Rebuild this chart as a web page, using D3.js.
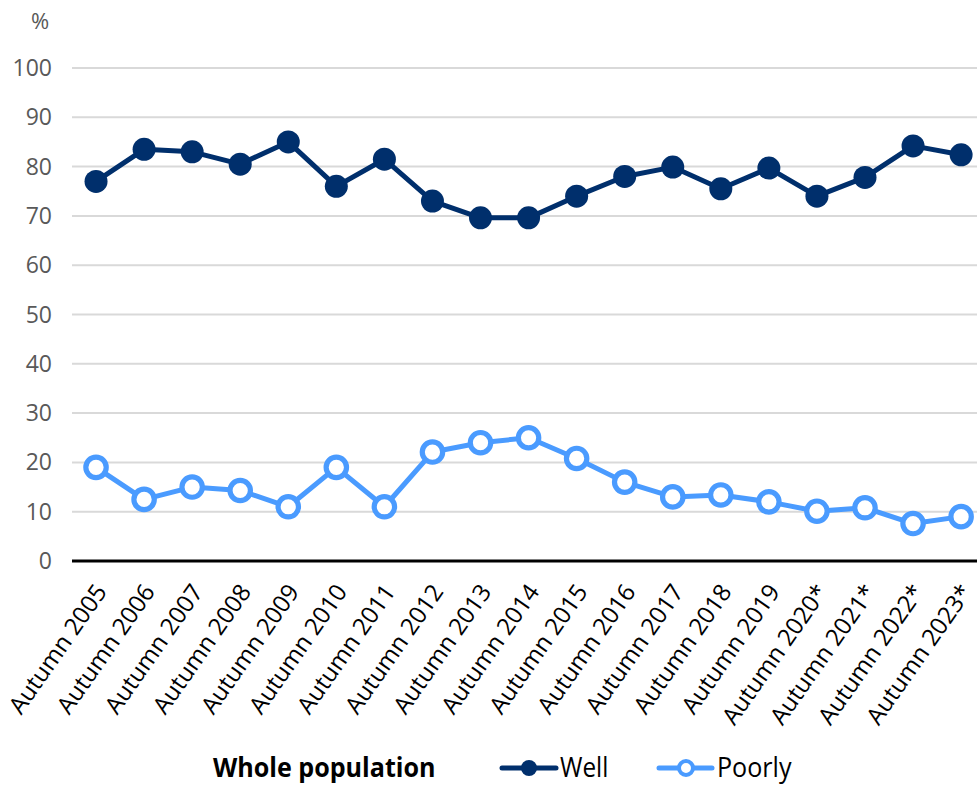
<!DOCTYPE html>
<html><head><meta charset="utf-8">
<script src="https://cdn.jsdelivr.net/npm/d3@7"></script>
<style>body{margin:0;background:#fff}svg{display:block}text{font-family:"Open Sans",sans-serif}</style>
</head><body>
<svg id="c" width="977" height="785"></svg>
<script>
const categories = ["Autumn 2005","Autumn 2006","Autumn 2007","Autumn 2008","Autumn 2009","Autumn 2010","Autumn 2011","Autumn 2012","Autumn 2013","Autumn 2014","Autumn 2015","Autumn 2016","Autumn 2017","Autumn 2018","Autumn 2019","Autumn 2020*","Autumn 2021*","Autumn 2022*","Autumn 2023*"];
const well = [77,83.5,83,80.5,85,76,81.5,73,69.6,69.6,74,78,79.9,75.5,79.7,74,77.8,84.2,82.4];
const poorly = [19,12.5,15,14.3,11,19,11,22.1,24,25,20.8,16,13,13.4,12,10.1,10.8,7.6,9];
const yTicks = [0,10,20,30,40,50,60,70,80,90,100];
const seriesNames = ["Well","Poorly"];
const legendTitle = "Whole population";

const svg = d3.select("#c");
const x = d3.scaleBand().domain(categories).range([72, 72 + 48.06*19]);
const y = d3.scaleLinear().domain([0,100]).range([561, 68]);
const cx = d => x(d) + x.bandwidth()/2;

svg.append("g").selectAll("line").data(yTicks.filter(t=>t>0)).join("line")
  .attr("x1",72).attr("x2",977).attr("y1",d=>y(d)).attr("y2",d=>y(d))
  .attr("stroke","#d9d9d9").attr("stroke-width",2);

svg.append("g").selectAll("text").data(yTicks).join("text")
  .attr("x",52).attr("y",d=>y(d)).attr("dy","0.35em").attr("text-anchor","end")
  .attr("font-size",23).attr("fill","#595959").text(d=>d);
svg.append("text").attr("x",40).attr("y",29).attr("text-anchor","middle")
  .attr("font-size",22).attr("fill","#595959").text("%");

svg.append("line").attr("x1",72).attr("x2",977).attr("y1",y(0)).attr("y2",y(0))
  .attr("stroke","#000").attr("stroke-width",3);

svg.append("g").selectAll("text").data(categories).join("text")
  .attr("transform",d=>`translate(${cx(d)+5},${587}) rotate(-55)`)
  .attr("text-anchor","end").attr("font-size",24).attr("fill","#000")
  .attr("dy","0.35em").text(d=>d);

const line = d3.line().x((d,i)=>cx(categories[i])).y(d=>y(d));
const cWell = "#002f6c", cPoor = "#4a9bff";

svg.append("path").datum(poorly).attr("d",line).attr("fill","none")
  .attr("stroke",cPoor).attr("stroke-width",5).attr("stroke-linejoin","round");
svg.append("g").selectAll("circle").data(poorly).join("circle")
  .attr("cx",(d,i)=>cx(categories[i])).attr("cy",d=>y(d)).attr("r",10.2)
  .attr("fill","#fff").attr("stroke",cPoor).attr("stroke-width",5.2);

svg.append("path").datum(well).attr("d",line).attr("fill","none")
  .attr("stroke",cWell).attr("stroke-width",5).attr("stroke-linejoin","round");
svg.append("g").selectAll("circle").data(well).join("circle")
  .attr("cx",(d,i)=>cx(categories[i])).attr("cy",d=>y(d)).attr("r",11.5)
  .attr("fill",cWell);

const ly = 768;
svg.append("text").attr("transform",`translate(213,${ly}) scale(0.93,1)`).attr("dy","0.35em")
  .attr("font-size",27).attr("font-weight","bold").attr("fill","#000").text(legendTitle);
const lg = svg.append("g");
lg.append("line").attr("x1",502).attr("x2",556).attr("y1",ly).attr("y2",ly)
  .attr("stroke",cWell).attr("stroke-width",5).attr("stroke-linecap","round");
lg.append("circle").attr("cx",529).attr("cy",ly).attr("r",8).attr("fill",cWell);
lg.append("text").attr("transform",`translate(560,${ly}) scale(0.9,1)`).attr("dy","0.35em").attr("font-size",27).text(seriesNames[0]);
lg.append("line").attr("x1",659).attr("x2",712).attr("y1",ly).attr("y2",ly)
  .attr("stroke",cPoor).attr("stroke-width",5).attr("stroke-linecap","round");
lg.append("circle").attr("cx",686).attr("cy",ly).attr("r",7).attr("fill","#fff")
  .attr("stroke",cPoor).attr("stroke-width",4);
lg.append("text").attr("transform",`translate(717,${ly}) scale(0.93,1)`).attr("dy","0.35em").attr("font-size",27).text(seriesNames[1]);
</script>
</body></html>
